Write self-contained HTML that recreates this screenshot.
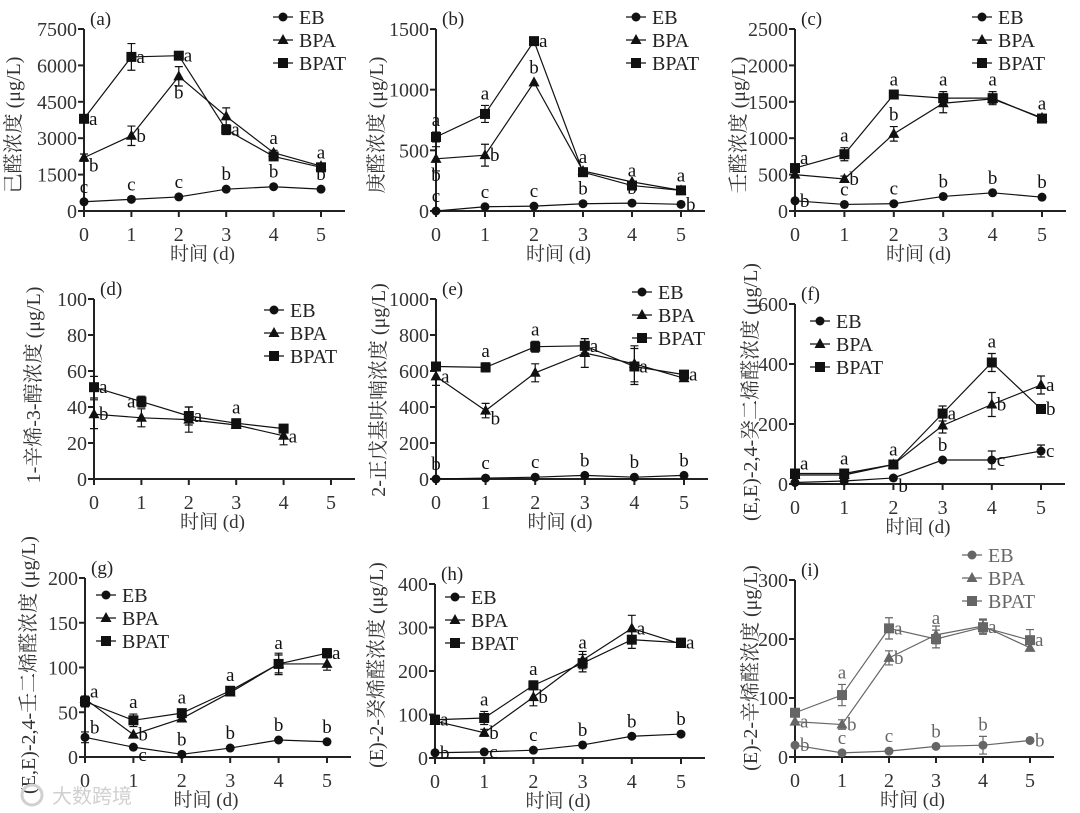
<!DOCTYPE html>
<html><head><meta charset="utf-8">
<style>
html,body{margin:0;padding:0;background:#fff;}
svg{display:block;font-family:"Liberation Serif","Noto Serif CJK SC",serif;}
</style></head>
<body>
<svg id="fig" width="1080" height="813" viewBox="0 0 1080 813" xmlns="http://www.w3.org/2000/svg"></svg>
<script>
const days=[0,1,2,3,4,5];
const a_ticks=[0,1500,3000,4500,6000,7500];
const a_EB=[380,480,580,900,1000,900];
const a_EB_err=[0,0,0,0,0,0];
const a_EB_lab=['c:u','c:u','c:u','b:u','b:u','b:u'];
const a_BPA=[2200,3100,5550,3900,2400,1850];
const a_BPA_err=[150,400,400,350,100,80];
const a_BPA_lab=['b:rb','b:r','b:d','','a:u',''];
const a_BPAT=[3800,6350,6400,3350,2250,1800];
const a_BPAT_err=[100,550,100,200,100,80];
const a_BPAT_lab=['a:r','a:r','a:r','a:r','','a:u'];

const b_ticks=[0,500,1000,1500];
const b_EB=[0,35,40,60,65,55];
const b_EB_err=[0,0,0,0,0,0];
const b_EB_lab=['c:u','c:u','c:u','b:u','b:u','b:r'];
const b_BPA=[430,460,1060,330,240,170];
const b_BPA_err=[100,90,0,0,0,0];
const b_BPA_lab=['b:d','b:r','b:u','','',''];
const b_BPAT=[610,800,1400,320,210,170];
const b_BPAT_err=[40,70,0,0,0,0];
const b_BPAT_lab=['a:u','a:u','a:r','a:u','a:u','a:u'];

const c_ticks=[0,500,1000,1500,2000,2500];
const c_EB=[140,90,100,200,250,190];
const c_EB_err=[0,0,0,0,0,0];
const c_EB_lab=['b:r','c:u','c:u','b:u','b:u','b:u'];
const c_BPA=[500,440,1060,1480,1540,1280];
const c_BPA_err=[0,40,100,130,60,0];
const c_BPA_lab=['','b:r','b:u','','',''];
const c_BPAT=[590,780,1600,1550,1550,1270];
const c_BPAT_err=[0,90,0,90,90,0];
const c_BPAT_lab=['a:ur','a:u','a:u','a:u','a:u','a:u'];

const d_ticks=[0,20,40,60,80,100];
const d_EB=[];
const d_EB_err=[];
const d_EB_lab=[];
const d_BPA=[36,34,33,30,24];
const d_BPA_err=[8,5,7,0,5];
const d_BPA_lab=['b:r','','','',''];
const d_BPAT=[51,43,35,31,28];
const d_BPAT_err=[6,3,5,2,0];
const d_BPAT_lab=['a:r','a:l','a:r','a:u','a:rb'];

const e_ticks=[0,200,400,600,800,1000];
const e_EB=[0,5,10,20,10,20];
const e_EB_err=[0,0,0,0,0,0];
const e_EB_lab=['b:u','c:u','c:u','b:u','b:u','b:u'];
const e_BPA=[570,380,590,700,640,560];
const e_BPA_err=[50,40,50,80,100,0];
const e_BPA_lab=['a:r','b:rb','','','',''];
const e_BPAT=[625,620,735,740,625,580];
const e_BPAT_err=[0,25,30,40,100,0];
const e_BPAT_lab=['','a:u','a:u','a:r','a:r','a:r'];

const f_ticks=[0,200,400,600];
const f_EB=[5,10,20,80,80,110];
const f_EB_err=[0,0,0,0,30,20];
const f_EB_lab=['','','b:rb','b:u','c:r','c:r'];
const f_BPA=[30,30,65,195,265,330];
const f_BPA_err=[0,0,0,25,40,30];
const f_BPA_lab=['','','','','b:r','a:r'];
const f_BPAT=[35,35,65,235,405,250];
const f_BPAT_err=[0,0,10,25,30,0];
const f_BPAT_lab=['a:ur','a:u','a:u','a:r','a:u','b:r'];

const g_ticks=[0,50,100,150,200];
const g_EB=[22,11,3,10,19,17];
const g_EB_err=[6,0,0,0,0,0];
const g_EB_lab=['b:ur','c:rb','b:u','b:u','b:u','b:u'];
const g_BPA=[65,25,43,72,104,104];
const g_BPA_err=[0,0,0,0,12,7];
const g_BPA_lab=['','b:r','','','',''];
const g_BPAT=[62,41,49,74,104,116];
const g_BPAT_err=[6,7,4,4,10,5];
const g_BPAT_lab=['a:ur','a:u','a:u','a:u','a:u','a:r'];

const h_ticks=[0,100,200,300,400];
const h_EB=[12,14,18,30,50,55];
const h_EB_err=[0,0,0,0,0,0];
const h_EB_lab=['b:r','c:r','c:u','b:u','b:u','b:u'];
const h_BPA=[85,58,140,225,298,262];
const h_BPA_err=[0,8,20,20,30,0];
const h_BPA_lab=['','b:r','b:r','','a:r',''];
const h_BPAT=[88,92,167,218,272,265];
const h_BPAT_err=[10,15,10,20,20,10];
const h_BPAT_lab=['a:r','a:u','a:u','a:u','','a:r'];

const i_ticks=[0,100,200,300];
const i_EB=[20,7,10,18,20,28];
const i_EB_err=[0,0,0,0,15,0];
const i_EB_lab=['b:r','c:u','c:u','b:u','b:u','b:r'];
const i_BPA=[60,55,168,207,222,185];
const i_BPA_err=[0,8,12,15,12,0];
const i_BPA_lab=['a:r','b:r','b:r','','',''];
const i_BPAT=[75,105,218,200,220,198];
const i_BPAT_err=[0,18,18,15,12,18];
const i_BPAT_lab=['','a:u','a:r','a:u','a:r','a:r'];

const seriesNames=['EB','BPA','BPAT'];

const NS='http://www.w3.org/2000/svg';
const svg=document.getElementById('fig');
function mk(tag,attrs,parent,txt){
  const e=document.createElementNS(NS,tag);
  for(const k in attrs)e.setAttribute(k,attrs[k]);
  if(txt!==undefined)e.textContent=txt;
  (parent||svg).appendChild(e);return e;
}
function marker(g,type,cx,cy,col){
  let m;
  if(type==='EB')m=mk('circle',{cx:cx,cy:cy,r:4.5,fill:col},g);
  else if(type==='BPA')m=mk('polygon',{points:`${cx},${cy-6} ${cx-5.5},${cy+4} ${cx+5.5},${cy+4}`,fill:col},g);
  else m=mk('rect',{x:cx-5,y:cy-5,width:10,height:10,fill:col},g);
  return m;
}
function panel(p){
  const col=p.col||'#111';
  const g=mk('g',{});
  
  
  const max=p.ticks[p.ticks.length-1];
  const X=i=>p.x0+i*(p.x5-p.x0)/5;
  const Y=v=>p.y0-(v/max)*(p.y0-p.yT);
  const ya=mk('line',{x1:p.x0,y1:p.y0,x2:p.x0,y2:p.yT,stroke:'#222','stroke-width':2},g);
  
  
  const xa=mk('line',{x1:p.x0-1,y1:p.y0,x2:p.x5+24,y2:p.y0,stroke:'#222','stroke-width':2},g);
  
  
  p.ticks.forEach(t=>{
    mk('line',{x1:p.x0-6,y1:Y(t),x2:p.x0,y2:Y(t),stroke:'#222','stroke-width':2},g);
    const tl=mk('text',{x:p.x0-7,y:Y(t)+7,'text-anchor':'end','font-size':20,fill:'#333'},g,String(t));
    
    
  });
  days.forEach(d=>{
    mk('line',{x1:X(d),y1:p.y0,x2:X(d),y2:p.y0+6,stroke:'#222','stroke-width':2},g);
    const tl=mk('text',{x:X(d),y:p.y0+30,'text-anchor':'middle','font-size':20,fill:'#333'},g,String(d));
    
    
  });
  const xt=mk('text',{x:(p.x0+p.x5)/2,y:p.y0+49,'text-anchor':'middle','font-size':19,fill:'#333'},g,'时间 (d)');
  
  
  const yt=mk('text',{x:0,y:0,'text-anchor':'middle','font-size':20,fill:'#333',transform:`translate(${p.tx},${p.ty}) rotate(-90)`},g,p.title);
  
  
  const pl=mk('text',{x:p.x0+6,y:p.yT-4,'font-size':19,fill:'#222'},g,'('+p.id+')');
  
  
  p.series.forEach((s,si)=>{
    const name=seriesNames[si];
    const sg=mk('g',{},g);
    
    
    if(!s.v.length)return;
    const pts=s.v.map((v,i)=>X(i)+','+Y(v)).join(' ');
    const ln=mk('polyline',{points:pts,fill:'none',stroke:col,'stroke-width':1.2},sg);
    
    
    s.v.forEach((v,i)=>{
      const e=s.e[i]||0;
      if(e>0){
        const eb=mk('path',{d:`M${X(i)},${Y(v+e)}V${Y(v-e)}M${X(i)-4},${Y(v+e)}H${X(i)+4}M${X(i)-4},${Y(v-e)}H${X(i)+4}`,stroke:col,'stroke-width':1.2,fill:'none'},sg);
        
        
      }
      const m=marker(sg,name,X(i),Y(v),col);
      
      
      const lab=s.l[i];
      if(lab){
        const [ch,pos]=lab.split(':');
        let lx=X(i),ly=Y(v),anc='start';
        if(pos==='r'){lx+=5;ly+=6;}
        else if(pos==='rb'){lx+=5;ly+=14;}
        else if(pos==='ur'){lx+=5;ly-=4;}
        else if(pos==='u'){anc='middle';ly-=Math.max(9,(e>0?(Y(v)-Y(v+e))+6:9));}
        else if(pos==='d'){anc='middle';ly+=22;}
        else if(pos==='l'){anc='end';lx-=6;ly+=6;}
        const t=mk('text',{x:lx,y:ly,'text-anchor':anc,'font-size':19,fill:col},sg,ch);
        
        
      }
    });
  });
  const lg=mk('g',{},g);
  
  
  seriesNames.forEach((n,k)=>{
    const y=p.ly[k];
    const eg=mk('g',{},lg);
    
    
    mk('line',{x1:p.lx-10,y1:y,x2:p.lx+10,y2:y,stroke:col,'stroke-width':1.2},eg);
    marker(eg,n,p.lx,y,col);
    mk('text',{x:p.lx+16,y:y+7,'font-size':20,fill:col==='#111'?'#222':col},eg,n);
  });
}
const S=(v,e,l)=>({v:v,e:e,l:l});
panel({id:'a',x0:84,x5:321,y0:211,yT:29,ticks:a_ticks,title:'己醛浓度 (μg/L)',tx:20,ty:125,lx:283,ly:[17,40,63],
  series:[S(a_EB,a_EB_err,a_EB_lab),S(a_BPA,a_BPA_err,a_BPA_lab),S(a_BPAT,a_BPAT_err,a_BPAT_lab)]});
panel({id:'b',x0:436,x5:681,y0:211,yT:29,ticks:b_ticks,title:'庚醛浓度 (μg/L)',tx:383,ty:125,lx:636,ly:[17,40,63],
  series:[S(b_EB,b_EB_err,b_EB_lab),S(b_BPA,b_BPA_err,b_BPA_lab),S(b_BPAT,b_BPAT_err,b_BPAT_lab)]});
panel({id:'c',x0:795,x5:1042,y0:211,yT:29,ticks:c_ticks,title:'壬醛浓度 (μg/L)',tx:745,ty:125,lx:982,ly:[17,40,63],
  series:[S(c_EB,c_EB_err,c_EB_lab),S(c_BPA,c_BPA_err,c_BPA_lab),S(c_BPAT,c_BPAT_err,c_BPAT_lab)]});
panel({id:'d',x0:94,x5:331,y0:479,yT:299,ticks:d_ticks,title:'1-辛烯-3-醇浓度 (μg/L)',tx:40,ty:385,lx:274,ly:[310,333,356],
  series:[S(d_EB,d_EB_err,d_EB_lab),S(d_BPA,d_BPA_err,d_BPA_lab),S(d_BPAT,d_BPAT_err,d_BPAT_lab)]});
panel({id:'e',x0:436,x5:684,y0:479,yT:299,ticks:e_ticks,title:'2-正戊基呋喃浓度 (μg/L)',tx:385,ty:390,lx:642,ly:[292,315,338],
  series:[S(e_EB,e_EB_err,e_EB_lab),S(e_BPA,e_BPA_err,e_BPA_lab),S(e_BPAT,e_BPAT_err,e_BPAT_lab)]});
panel({id:'f',x0:795,x5:1041,y0:484,yT:304,ticks:f_ticks,title:'(E,E)-2,4-癸二烯醛浓度 (μg/L)',tx:757,ty:392,lx:820,ly:[321,344,367],
  series:[S(f_EB,f_EB_err,f_EB_lab),S(f_BPA,f_BPA_err,f_BPA_lab),S(f_BPAT,f_BPAT_err,f_BPAT_lab)]});
panel({id:'g',x0:85,x5:327,y0:757,yT:578,ticks:g_ticks,title:'(E,E)-2,4-壬二烯醛浓度 (μg/L)',tx:35,ty:665,lx:106,ly:[595,618,641],
  series:[S(g_EB,g_EB_err,g_EB_lab),S(g_BPA,g_BPA_err,g_BPA_lab),S(g_BPAT,g_BPAT_err,g_BPAT_lab)]});
panel({id:'h',x0:435,x5:681,y0:758,yT:584,ticks:h_ticks,title:'(E)-2-癸烯醛浓度 (μg/L)',tx:383,ty:665,lx:455,ly:[597,620,643],
  series:[S(h_EB,h_EB_err,h_EB_lab),S(h_BPA,h_BPA_err,h_BPA_lab),S(h_BPAT,h_BPAT_err,h_BPAT_lab)]});
panel({id:'i',x0:795,x5:1030,y0:757,yT:580,ticks:i_ticks,title:'(E)-2-辛烯醛浓度 (μg/L)',tx:757,ty:668,lx:972,ly:[555,578,601],col:'#666',
  series:[S(i_EB,i_EB_err,i_EB_lab),S(i_BPA,i_BPA_err,i_BPA_lab),S(i_BPAT,i_BPAT_err,i_BPAT_lab)]});
const wm=mk('text',{x:52,y:803,'font-size':20,fill:'#d0d0d0','font-family':'"Noto Sans CJK SC",sans-serif'},svg,'大数跨境');


const wc=mk('circle',{cx:32,cy:795,r:10,fill:'none',stroke:'#d0d0d0','stroke-width':3});


</script>
</body></html>
